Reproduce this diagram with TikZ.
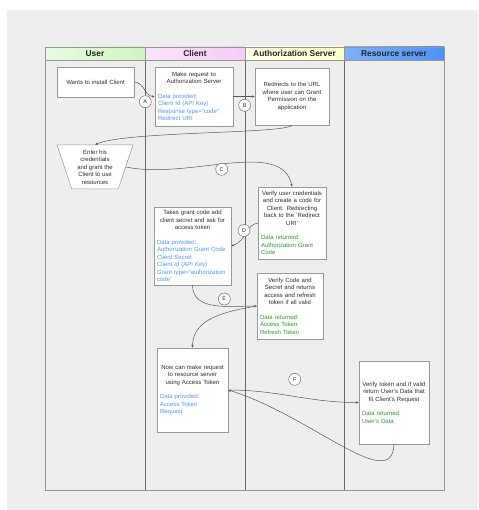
\documentclass[tikz,border=0pt]{standalone}
\usepackage{fontspec}
\setmainfont{Liberation Sans}
\usepackage{xcolor}
\definecolor{bggray}{RGB}{238,238,238}
\definecolor{laneline}{RGB}{150,150,150}
\definecolor{lanedark}{RGB}{105,105,105}
\definecolor{txtgray}{RGB}{45,45,45}
\definecolor{userl}{RGB}{232,250,226}
\definecolor{userr}{RGB}{208,245,196}
\definecolor{clientl}{RGB}{250,228,250}
\definecolor{clientr}{RGB}{245,205,245}
\definecolor{authl}{RGB}{255,255,232}
\definecolor{authr}{RGB}{255,255,204}
\definecolor{resl}{RGB}{125,178,248}
\definecolor{resr}{RGB}{78,146,245}
\definecolor{datablue}{RGB}{80,150,250}
\definecolor{datagreen}{RGB}{44,152,44}
\usepackage{tikz}
\usetikzlibrary{arrows.meta,shapes.geometric}

\begin{document}
\begin{tikzpicture}[x=1pt, y=-1pt,
  head/.style={draw=laneline, line width=0.6pt, minimum width=100pt, minimum height=13pt, inner sep=0pt, font=\fontsize{8.4}{9}\selectfont\bfseries, text=black!85},
  box/.style={draw=black!40, fill=white, line width=0.5pt, align=left, inner xsep=3pt, inner ysep=2pt, font=\fontsize{6}{7.5}\selectfont, text=txtgray},
  letter/.style={circle, draw=black!55, fill=white, line width=0.5pt, minimum size=12pt, inner sep=0pt, font=\fontsize{5.5}{6}\selectfont, text=txtgray},
  flow/.style={draw=black!65, line width=0.5pt, -{Stealth[length=3pt, width=2.4pt]}}
]
  \useasboundingbox (0,0) rectangle (478,510);
  \fill[white] (0,0) rectangle (478,510);
  \fill[bggray] (7,10) rectangle (478,510);

  % Lanes
  \draw[laneline, line width=0.6pt] (45,47) rectangle (444,490);
  \foreach \x in {145,245,344} {
    \draw[lanedark, line width=0.6pt] (\x,47) -- (\x,490);
  }
  \node[head, left color=userl, right color=userr] (l1) at (95,53.5) {User};
  \node[head, left color=clientl, right color=clientr] (l2) at (195,53.5) {Client};
  \node[head, left color=authl, right color=authr, minimum width=99pt] (l3) at (294.5,53.5) {Authorization Server};
  \node[head, left color=resl, right color=resr] (l4) at (394,53.5) {Resource server};

  % Steps
  \node[box, align=center, text width=71pt, minimum height=30pt] (u1) at (95.5,82) {Wants to install Client};
  \node[box, text width=72pt, minimum height=59pt] (c1) at (194,96.5) {{\centering Make request to\\Authorization Server\par}\vspace{6.8pt}\color{datablue}Data provided:\\Client Id (API Key)\\Response type="code"\\Redirect URI};
  \node[box, align=center, text width=68pt, minimum height=57pt] (a1) at (292,96.5) {Redirects to the URL\\where user can Grant\\Permission on the\\application};
  \node[trapezium, shape border rotate=180, trapezium stretches=true, trapezium left angle=72, trapezium right angle=72, minimum width=76pt, minimum height=44pt, draw=black!40, fill=white, line width=0.5pt, align=center, inner sep=0pt, font=\fontsize{6}{7.5}\selectfont, text=txtgray] (u2) at (95,167) {Enter his\\credentials\\and grant the\\Client to use\\resources};
  \node[box, text width=62pt, minimum height=72pt] (a2) at (292,223) {{\centering Verify user credentials\\and create a code for\\Client. Redirecting\\back to the 'Redirect\\URI'\par}\vspace{6.8pt}\color{datagreen}Data returned:\\Authorization Grant\\Code};
  \node[box, text width=71pt, minimum height=78pt] (c2) at (192.5,246) {{\centering Takes grant code add\\client secret and ask for\\access token\par}\vspace{6.8pt}\color{datablue}Data provided:\\Authorization Grant Code\\Client Secret\\Client Id (API Key)\\Grant type="authorization\\code"};
  \node[box, text width=60pt, minimum height=66pt] (a3) at (290,306) {{\centering Verify Code and\\Secret and returns\\access and refresh\\token if all valid\par}\vspace{6.8pt}\color{datagreen}Data returned:\\Access Token\\Refresh Token};
  \node[box, text width=65pt, minimum height=84pt] (c3) at (192.5,390) {{\centering Now can make request\\to resource server\\using Access Token\par}\vspace{6.8pt}\color{datablue}Data provided:\\Access Token\\Request};
  \node[box, text width=64pt, minimum height=83pt] (r1) at (394,402.5) {{\centering Verify token and if valid\\return User's Data that\\fit Client's Request\par}\vspace{6.8pt}\color{datagreen}Data returned:\\User's Data};

  % Flow
  \draw[flow] (u1.east) to[out=0, in=180] (c1.west);
  \draw[flow] (c1.east) -- (a1.west);
  \draw[flow] (a1.south) .. controls (285,134) and (125,131) .. (u2.north);
  \draw[flow] (u2.east) .. controls (190,180) and (282,138) .. (a2.north);
  \draw[flow] (a2.west) .. controls (245,225) and (248,240) .. (c2.east);
  \draw[flow] (c2.south) to[out=-90, in=180] (a3.west);
  \draw[flow] (a3.west) to[out=190, in=90] (c3.north);
  \draw[flow] (c3.east) to[out=0, in=180] (r1.west);
  \draw[flow] (r1.south) .. controls (392,495) and (310,415) .. (c3.east);

  % Letters
  \node[letter] (la) at (145.3,101.7) {A};
  \node[letter] (lb) at (244.7,105.3) {B};
  \node[letter] (lc) at (221.7,169.3) {C};
  \node[letter] (ld) at (244,230.5) {D};
  \node[letter] (le) at (224.3,299) {E};
  \node[letter] (lf) at (294.7,379.3) {F};
\end{tikzpicture}
\end{document}
